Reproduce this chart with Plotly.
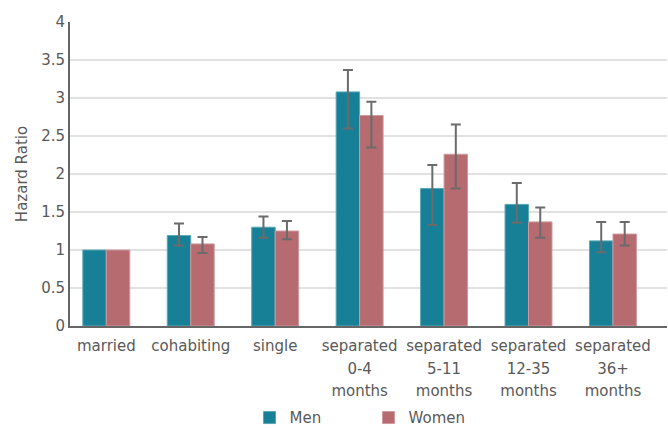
import plotly.graph_objects as go

categories = ["married", "cohabiting", "single", "separated<br>0-4<br>months",
              "separated<br>5-11<br>months", "separated<br>12-35<br>months",
              "separated<br>36+<br>months"]
men = [1.0, 1.19, 1.30, 3.08, 1.81, 1.60, 1.12]
men_upper = [None, 1.35, 1.44, 3.37, 2.12, 1.88, 1.37]
men_lower = [None, 1.06, 1.16, 2.60, 1.33, 1.36, 0.97]
women = [1.0, 1.08, 1.25, 2.77, 2.26, 1.37, 1.21]
women_upper = [None, 1.17, 1.38, 2.95, 2.65, 1.56, 1.37]
women_lower = [None, 0.96, 1.14, 2.35, 1.81, 1.16, 1.06]


def err(vals, up, lo):
    # "NaN" strings survive JSON encoding and tell plotly.js to skip the bar's error bar
    plus = [round(u - v, 4) if u is not None else "NaN" for v, u in zip(vals, up)]
    minus = [round(v - l, 4) if l is not None else "NaN" for v, l in zip(vals, lo)]
    return plus, minus

mp, mm = err(men, men_upper, men_lower)
wp, wm = err(women, women_upper, women_lower)

ebar_style = dict(type="data", symmetric=False, color="#6b6b6b", thickness=2, width=5)

fig = go.Figure()
fig.add_trace(go.Bar(
    x=list(range(len(categories))), y=men, name="Men",
    marker=dict(color="#188096", line=dict(color="#5aa6b6", width=1)),
    error_y=dict(array=mp, arrayminus=mm, **ebar_style),
))
fig.add_trace(go.Bar(
    x=list(range(len(categories))), y=women, name="Women",
    marker=dict(color="#b56b70", line=dict(color="#cf9a9e", width=1)),
    error_y=dict(array=wp, arrayminus=wm, **ebar_style),
))

tick_labels = ["<br>".join("<span style='font-size:15px'>%s</span>" % part
                           for part in c.split("<br>")) for c in categories]

font_color = "#595959"
fig.update_layout(
    width=668, height=429,
    margin=dict(l=70, r=1, t=22, b=103, autoexpand=False),
    paper_bgcolor="white", plot_bgcolor="white",
    font=dict(family="DejaVu Sans, Verdana, sans-serif", size=15, color=font_color),
    barmode="group", bargap=0.444, bargroupgap=0,
    showlegend=True,
    legend=dict(orientation="h", x=0.5, xanchor="center", y=-0.302, yanchor="middle",
                font=dict(size=15, color=font_color), entrywidth=74,
                traceorder="normal", bgcolor="rgba(0,0,0,0)"),
    xaxis=dict(
        tickmode="array", tickvals=list(range(len(categories))), ticktext=tick_labels,
        range=[-0.43, 6.64], showgrid=False, showline=True, linecolor="#666666",
        linewidth=2, ticks="", tickfont=dict(size=17, color=font_color), zeroline=False,
        ticklabelstandoff=3, automargin=False,
    ),
    yaxis=dict(
        range=[0, 4], dtick=0.5, showgrid=True, gridcolor="#e1e1e1", gridwidth=2,
        showline=True, linecolor="#666666", linewidth=2, ticks="",
        tickfont=dict(size=15, color=font_color), zeroline=False, automargin=False,
        title=dict(text="Hazard Ratio", font=dict(size=15, color=font_color), standoff=10),
    ),
)

fig.write_html("out.html")
